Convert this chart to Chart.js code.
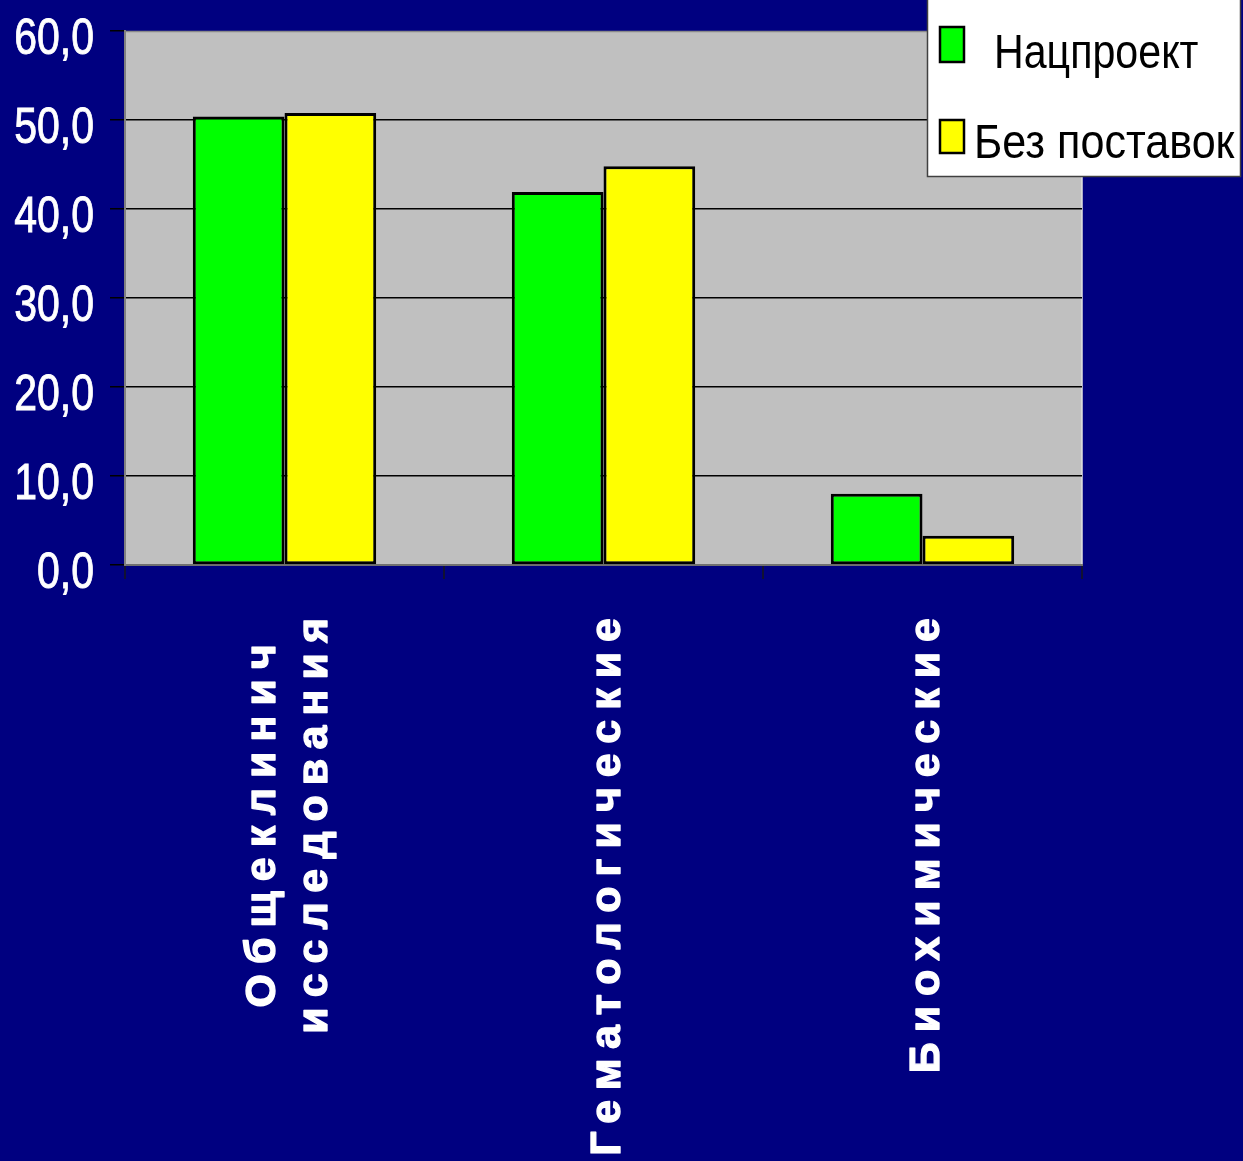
<!DOCTYPE html>
<html>
<head>
<meta charset="utf-8">
<script src="https://cdn.jsdelivr.net/npm/chart.js@4.4.1/dist/chart.umd.min.js"></script>
<style>
  html, body { margin: 0; padding: 0; background: #000080; }
  #wrap { width: 1243px; height: 1161px; }
</style>
</head>
<body>
<div id="wrap"><canvas id="c" width="1243" height="1161"></canvas></div>
<script>
// ---- data ----
const categories = [['Общеклинич', 'исследования'], 'Гематологические', 'Биохимические'];
const seriesNames = ['Нацпроект', 'Без поставок'];
const nacproekt = [50.4, 41.9, 8.0];
const bezPostavok = [50.8, 44.8, 3.3];
const yTickValues = [0, 10, 20, 30, 40, 50, 60];
const yTickLabels = ['0,0', '10,0', '20,0', '30,0', '40,0', '50,0', '60,0'];

// ---- styles ----
const NAVY = '#000080';
const PLOT_BG = '#C0C0C0';
const seriesColors = ['#00FF00', '#FFFF00'];
const NARROW = 0.82;

function condensedText(ctx, text, x, y, align, sx, stroke) {
  ctx.save();
  ctx.translate(x, y);
  ctx.scale(sx, 1);
  ctx.textAlign = align;
  ctx.fillText(text, 0, 0);
  if (stroke) ctx.strokeText(text, 0, 0);
  ctx.restore();
}

const bgPlugin = {
  id: 'bg',
  beforeDraw(chart) {
    const { ctx, chartArea: a } = chart;
    ctx.save();
    ctx.fillStyle = NAVY;
    ctx.fillRect(0, 0, chart.width, chart.height);
    ctx.fillStyle = PLOT_BG;
    ctx.fillRect(a.left, a.top, a.right - a.left, a.bottom - a.top);
    ctx.strokeStyle = '#8a8a8a';
    ctx.lineWidth = 1.5;
    ctx.beginPath();
    ctx.moveTo(a.left, a.top + 0.5);
    ctx.lineTo(a.right, a.top + 0.5);
    ctx.stroke();
    ctx.strokeStyle = '#e0e0e0';
    ctx.beginPath();
    ctx.moveTo(a.right, a.top);
    ctx.lineTo(a.right, a.bottom);
    ctx.stroke();
    ctx.restore();
  }
};

const yLabelPlugin = {
  id: 'yLabels',
  afterDraw(chart) {
    const { ctx } = chart;
    const ys = chart.scales.y;
    ctx.save();
    ctx.fillStyle = '#FFFFFF';
    ctx.strokeStyle = '#FFFFFF';
    ctx.lineWidth = 0.9;
    ctx.font = '50px "Liberation Sans", Arial, sans-serif';
    ctx.textBaseline = 'alphabetic';
    yTickValues.forEach((v, i) => {
      condensedText(ctx, yTickLabels[i], 94, ys.getPixelForValue(v) + 23, 'right', NARROW, true);
    });
    ctx.restore();
  }
};

const catLabelPlugin = {
  id: 'catLabels',
  afterDraw(chart) {
    const { ctx } = chart;
    const xs = chart.scales.x;
    const LS = 10.0;
    ctx.save();
    ctx.fillStyle = '#FFFFFF';
    ctx.strokeStyle = '#FFFFFF';
    ctx.lineWidth = 1.3;
    ctx.lineJoin = 'round';
    ctx.font = 'bold 43px "Liberation Sans", Arial, sans-serif';
    ctx.letterSpacing = LS + 'px';
    ctx.textBaseline = 'alphabetic';
    ctx.textAlign = 'left';
    const top = 618;
    const lineH = 52;
    const baseOff = 16;
    chart.data.labels.forEach((lab, i) => {
      const lines = Array.isArray(lab) ? lab : [lab];
      const cx = xs.getPixelForValue(i);
      const widths = lines.map(l => ctx.measureText(l).width - LS);
      const blockLen = Math.max(...widths);
      lines.forEach((l, j) => {
        const bx = cx + baseOff + (j - (lines.length - 1) / 2) * lineH;
        const endY = top + (blockLen - widths[j]) / 2;
        const startY = endY + widths[j];
        ctx.save();
        ctx.translate(bx, startY);
        ctx.rotate(-Math.PI / 2);
        ctx.fillText(l, 0, 0);
        ctx.strokeText(l, 0, 0);
        ctx.restore();
      });
    });
    ctx.restore();
  }
};

const legendPlugin = {
  id: 'boxLegend',
  afterDraw(chart) {
    const { ctx } = chart;
    ctx.save();
    ctx.fillStyle = '#FFFFFF';
    ctx.fillRect(927, -2, 314, 179);
    ctx.strokeStyle = '#404040';
    ctx.lineWidth = 1.5;
    ctx.strokeRect(927.5, -2, 313, 178.5);
    const items = [
      { box: [940, 27, 24, 35], tx: 994, ty: 68, sx: 0.84 },
      { box: [940, 120, 24, 33], tx: 974, ty: 158, sx: 0.88 }
    ];
    ctx.font = '49px "Liberation Sans", Arial, sans-serif';
    ctx.textBaseline = 'alphabetic';
    chart.data.datasets.forEach((ds, i) => {
      const it = items[i];
      ctx.fillStyle = ds.backgroundColor;
      ctx.fillRect(...it.box);
      ctx.strokeStyle = '#000000';
      ctx.lineWidth = 2.5;
      ctx.strokeRect(...it.box);
      ctx.fillStyle = '#000000';
      condensedText(ctx, ds.label, it.tx, it.ty, 'left', it.sx, false);
    });
    ctx.restore();
  }
};

new Chart(document.getElementById('c'), {
  type: 'bar',
  data: {
    labels: categories,
    datasets: [
      { label: seriesNames[0], data: nacproekt, backgroundColor: seriesColors[0], borderColor: '#000000', borderWidth: 3, borderSkipped: false },
      { label: seriesNames[1], data: bezPostavok, backgroundColor: seriesColors[1], borderColor: '#000000', borderWidth: 3, borderSkipped: false }
    ]
  },
  options: {
    responsive: false,
    animation: false,
    devicePixelRatio: 1,
    layout: { padding: { top: 31, right: 161, left: 0, bottom: 0 } },
    datasets: { bar: { categoryPercentage: 0.575, barPercentage: 1.0 } },
    plugins: { legend: { display: false }, tooltip: { enabled: false } },
    scales: {
      x: {
        grid: { offset: true, drawOnChartArea: false, drawTicks: true, tickLength: 14, tickColor: '#111133', lineWidth: 2 },
        border: { display: true, color: '#707070', width: 2 },
        ticks: { display: false },
        afterFit(s) { s.height = 596; s.paddingLeft = 0; s.paddingRight = 0; }
      },
      y: {
        min: 0, max: 60,
        afterBuildTicks(s) { s.ticks = yTickValues.map(v => ({ value: v })); },
        ticks: { display: false },
        grid: {
          color(c) { return (c.tick.value === 0 || c.tick.value === 60) ? 'rgba(0,0,0,0)' : '#000000'; },
          lineWidth: 1.5,
          tickLength: 15,
          tickColor: '#000000'
        },
        border: { display: true, color: '#808080', width: 2 },
        afterFit(s) { s.width = 125; s.paddingTop = 0; s.paddingBottom = 0; }
      }
    }
  },
  plugins: [bgPlugin, yLabelPlugin, catLabelPlugin, legendPlugin]
});
</script>
</body>
</html>
